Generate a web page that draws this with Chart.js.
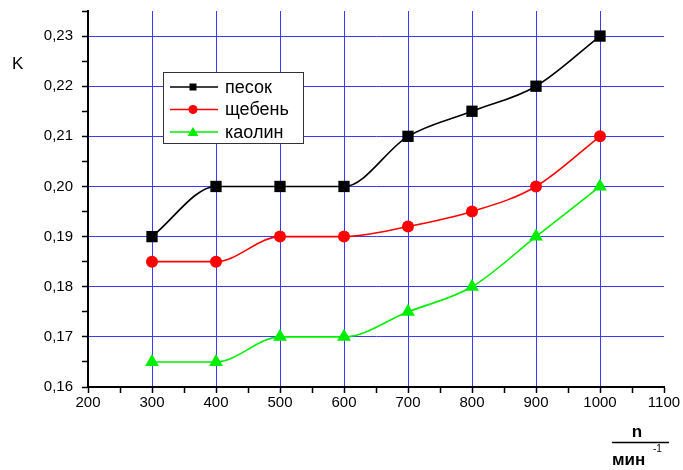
<!DOCTYPE html>
<html>
<head>
<meta charset="utf-8">
<script src="https://cdn.jsdelivr.net/npm/chart.js@4/dist/chart.umd.min.js"></script>
<style>
  html, body { margin: 0; padding: 0; background: #fff; }
  #wrap { width: 683px; height: 470px; position: relative; }
</style>
</head>
<body>
<div id="wrap"><canvas id="chart" width="683" height="470"></canvas></div>
<script>
// values
const speeds = [300, 400, 500, 600, 700, 800, 900, 1000];
const sand = [0.19, 0.20, 0.20, 0.20, 0.21, 0.215, 0.22, 0.23];
const gravel = [0.185, 0.185, 0.19, 0.19, 0.192, 0.195, 0.20, 0.21];
const kaolin = [0.165, 0.165, 0.17, 0.17, 0.175, 0.18, 0.19, 0.20];
const seriesNames = ['песок', 'щебень', 'каолин'];

const GRID = '#3a3af8';
const FONT = '"Liberation Sans", Arial, sans-serif';

const toPoints = (vals) => speeds.map((x, i) => ({x: x, y: vals[i]}));

const makeSet = (label, vals, color, style, radius) => ({
    label: label,
    data: toPoints(vals),
    borderColor: color,
    backgroundColor: color,
    borderWidth: 1.6,
    pointStyle: style,
    pointRadius: radius,
    pointBorderWidth: 0,
    cubicInterpolationMode: 'monotone',
    showLine: true,
});

// a little boxed legend inside the plot, like the original
const boxLegend = {
    id: 'boxLegend',
    afterDraw(chart) {
        const ctx = chart.ctx;
        const bx = 163, by = 72, bw = 140, bh = 71;
        ctx.save();
        ctx.fillStyle = '#fff';
        ctx.fillRect(bx, by, bw, bh);
        ctx.strokeStyle = '#333';
        ctx.lineWidth = 1;
        ctx.strokeRect(bx + 0.5, by + 0.5, bw, bh);
        chart.data.datasets.forEach((ds, i) => {
            const y = by + 15 + i * 22.5;
            ctx.strokeStyle = ds.borderColor;
            ctx.lineWidth = 1.5;
            ctx.beginPath();
            ctx.moveTo(170, y);
            ctx.lineTo(218, y);
            ctx.stroke();
            ctx.fillStyle = ds.backgroundColor;
            const cx = 193;
            ctx.beginPath();
            if (ds.pointStyle === 'rect') {
                ctx.rect(cx - 3.5, y - 3.5, 7, 7);
            } else if (ds.pointStyle === 'circle') {
                ctx.arc(cx, y, 4.5, 0, Math.PI * 2);
            } else {
                ctx.moveTo(cx, y - 5);
                ctx.lineTo(cx + 5.5, y + 4);
                ctx.lineTo(cx - 5.5, y + 4);
                ctx.closePath();
            }
            ctx.fill();
            ctx.fillStyle = '#000';
            ctx.font = '18px ' + FONT;
            ctx.textBaseline = 'middle';
            ctx.fillText(ds.label, 225, y + 1);
        });
        ctx.restore();
    }
};

// axis captions: "K" and the n / мин^-1 fraction
const captions = {
    id: 'captions',
    afterDraw(chart) {
        const ctx = chart.ctx;
        ctx.save();
        ctx.fillStyle = '#000';
        ctx.font = '17px ' + FONT;
        ctx.textAlign = 'left';
        ctx.textBaseline = 'alphabetic';
        ctx.fillText('K', 12, 69);

        ctx.font = 'bold 17px ' + FONT;
        ctx.textAlign = 'center';
        ctx.fillText('n', 637, 437);
        ctx.strokeStyle = '#000';
        ctx.lineWidth = 1.3;
        ctx.beginPath();
        ctx.moveTo(612, 442.5);
        ctx.lineTo(669, 442.5);
        ctx.stroke();
        ctx.textAlign = 'left';
        ctx.fillText('мин', 612, 465);
        ctx.font = '10px ' + FONT;
        ctx.fillText('-1', 653, 452);
        ctx.restore();
    }
};

const isMajor = (v, unit) => Math.abs(Math.round(v / unit) * unit - v) < unit * 1e-4;

const chart = new Chart(document.getElementById('chart').getContext('2d'), {
    type: 'scatter',
    data: {
        datasets: [
            makeSet(seriesNames[0], sand, '#000000', 'rect', 8),
            makeSet(seriesNames[1], gravel, '#ff0000', 'circle', 6),
            makeSet(seriesNames[2], kaolin, '#00ee00', 'triangle', 8),
        ]
    },
    options: {
        responsive: false,
        animation: false,
        devicePixelRatio: 1,
        layout: {padding: {top: 11, right: 19, left: 0, bottom: 0}},
        plugins: {
            legend: {display: false},
            tooltip: {enabled: false},
        },
        scales: {
            x: {
                type: 'linear',
                min: 200,
                max: 1100,
                afterFit: (s) => { s.height = 83; s.paddingRight = 0; s.paddingLeft = 0; },
                border: {color: '#000', width: 2},
                grid: {
                    color: (c) => (isMajor(c.tick.value, 100) && c.tick.value > 200 && c.tick.value < 1100) ? GRID : 'rgba(0,0,0,0)',
                    lineWidth: 1,
                    tickColor: '#000',
                    tickLength: 6,
                    tickWidth: 1.5,
                },
                ticks: {
                    stepSize: 50,
                    padding: 1,
                    color: '#000',
                    font: {family: FONT, size: 15},
                    maxRotation: 0,
                    autoSkip: false,
                    callback: (v) => isMajor(v, 100) ? String(v) : '',
                },
            },
            y: {
                min: 0.16,
                max: 0.235,
                afterFit: (s) => { s.width = 88; s.paddingTop = 0; s.paddingBottom = 0; },
                border: {color: '#000', width: 2},
                grid: {
                    color: (c) => (isMajor(c.tick.value, 0.01) && c.tick.value > 0.161) ? GRID : 'rgba(0,0,0,0)',
                    lineWidth: 1,
                    tickColor: '#000',
                    tickLength: 6,
                    tickWidth: 1.5,
                },
                ticks: {
                    stepSize: 0.005,
                    padding: 9,
                    color: '#000',
                    font: {family: FONT, size: 15},
                    autoSkip: false,
                    callback: (v) => isMajor(v, 0.01) ? v.toFixed(2).replace('.', ',') : '',
                },
            },
        },
    },
    plugins: [boxLegend, captions],
});
</script>
</body>
</html>
